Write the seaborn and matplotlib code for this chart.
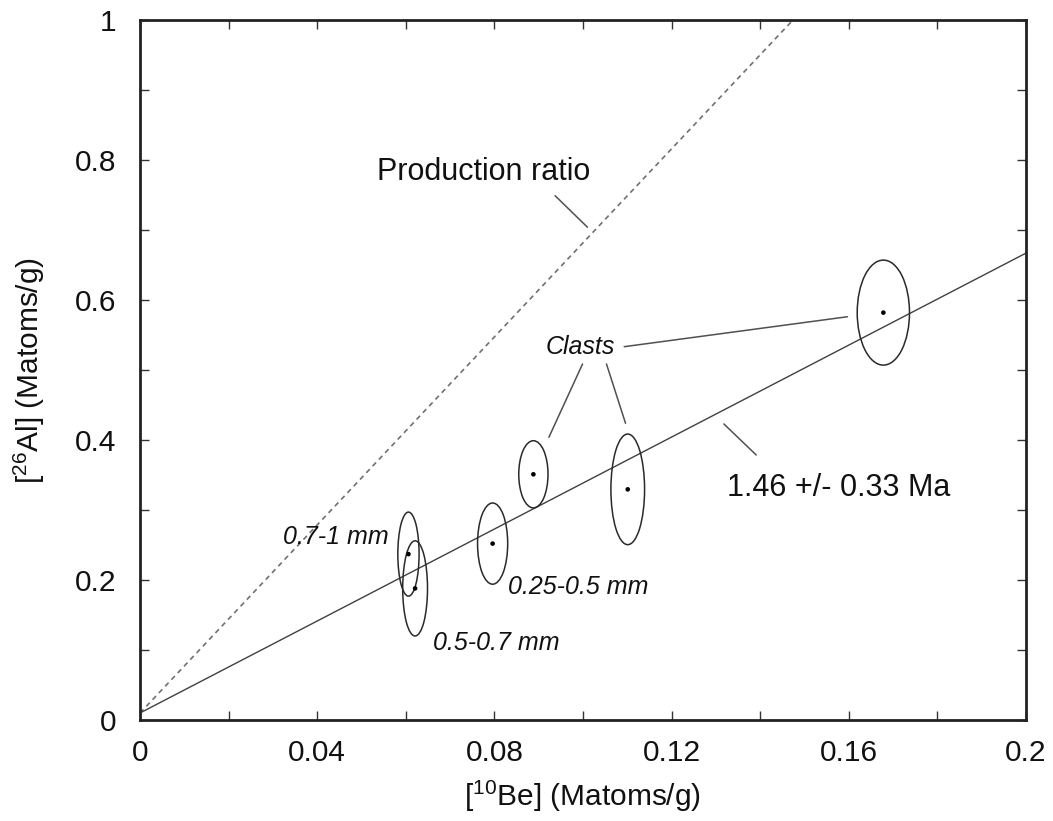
import matplotlib
matplotlib.use("Agg")
import matplotlib.pyplot as plt
from matplotlib.patches import Ellipse
from matplotlib.ticker import MultipleLocator
import seaborn as sns

# measured samples: 10Be / 26Al concentrations (Matoms/g) and 1-sigma errors
be10 = [0.0606, 0.0621, 0.0796, 0.0888, 0.1101, 0.1678]
al26 = [0.237, 0.188, 0.252, 0.351, 0.3295, 0.582]
be10_err = [0.0024, 0.0028, 0.0034, 0.0033, 0.0038, 0.0059]
al26_err = [0.060, 0.068, 0.058, 0.048, 0.079, 0.075]

# reference lines
prod_x = [0.0, 0.1474]
prod_y = [0.01, 1.0]
iso_x = [0.0, 0.2]
iso_y = [0.01, 0.667]

x_ticks = [0, 0.04, 0.08, 0.12, 0.16, 0.2]
x_labels = ["0", "0.04", "0.08", "0.12", "0.16", "0.2"]
y_ticks = [0, 0.2, 0.4, 0.6, 0.8, 1.0]
y_labels = ["0", "0.2", "0.4", "0.6", "0.8", "1"]

sns.set_theme(style="ticks")
plt.rcParams["font.family"] = ["Liberation Sans", "DejaVu Sans"]
plt.rcParams["mathtext.fontset"] = "custom"
plt.rcParams["mathtext.rm"] = "Liberation Sans"
plt.rcParams["mathtext.it"] = "Liberation Sans:italic"
plt.rcParams["text.color"] = "#111111"
plt.rcParams["axes.labelcolor"] = "#111111"
plt.rcParams["xtick.labelcolor"] = "#111111"
plt.rcParams["ytick.labelcolor"] = "#111111"

fig = plt.figure(figsize=(10.53, 8.21), dpi=100)
ax = fig.add_axes([140 / 1053, 1 - 720 / 821, 886 / 1053, 700 / 821])

sns.lineplot(x=prod_x, y=prod_y, ax=ax, color="#707070", linewidth=1.2,
             linestyle=(0, (3, 2.5)))
sns.lineplot(x=iso_x, y=iso_y, ax=ax, color="#404040", linewidth=1.0)

for x, y, ex, ey in zip(be10, al26, be10_err, al26_err):
    ax.add_patch(Ellipse((x, y), 2 * ex, 2 * ey, fill=False,
                         edgecolor="#2a2a2a", linewidth=1.1, zorder=3))
sns.scatterplot(x=be10, y=al26, ax=ax, color="black", s=11,
                edgecolor="none", zorder=4)

# leader lines for the annotations
leaders = [
    ((0.0937, 0.1010), (0.749, 0.704)),
    ((0.0999, 0.0923), (0.5086, 0.4039)),
    ((0.1053, 0.1096), (0.5086, 0.4239)),
    ((0.1093, 0.1597), (0.5333, 0.5761)),
    ((0.1318, 0.1391), (0.4229, 0.3786)),
]
for lx, ly in leaders:
    ax.plot(lx, ly, color="#505050", linewidth=1.1)

ax.text(0.0535, 0.783, "Production ratio", fontsize=22, ha="left", va="center")
ax.text(0.1324, 0.331, "1.46 +/- 0.33 Ma", fontsize=22, ha="left", va="center")
ax.text(0.0995, 0.5333, "Clasts", fontsize=18, style="italic",
        ha="center", va="center")
ax.text(0.0562, 0.262, "0.7-1 mm", fontsize=18, style="italic",
        ha="right", va="center")
ax.text(0.0661, 0.1096, "0.5-0.7 mm", fontsize=18, style="italic",
        ha="left", va="center")
ax.text(0.0830, 0.1896, "0.25-0.5 mm", fontsize=18, style="italic",
        ha="left", va="center")

ax.set_xlim(0, 0.2)
ax.set_ylim(0, 1)
ax.set_xticks(x_ticks)
ax.set_xticklabels(x_labels)
ax.set_yticks(y_ticks)
ax.set_yticklabels(y_labels)
ax.xaxis.set_minor_locator(MultipleLocator(0.02))
ax.yaxis.set_minor_locator(MultipleLocator(0.1))
ax.tick_params(which="both", direction="in", top=True, right=True,
               length=6.5, width=1.0, color="#333333")
ax.tick_params(axis="x", which="major", labelsize=21.5, pad=14)
ax.tick_params(axis="y", which="major", labelsize=21.5, pad=17)
for s in ax.spines.values():
    s.set_linewidth(2.0)
    s.set_color("#222222")

ax.set_xlabel(r"[$^{10}$Be] (Matoms/g)", fontsize=21.5, labelpad=8)
ax.set_ylabel(r"[$^{26}$Al] (Matoms/g)", fontsize=21.5, labelpad=20)

fig.savefig("out.png", dpi=100)
